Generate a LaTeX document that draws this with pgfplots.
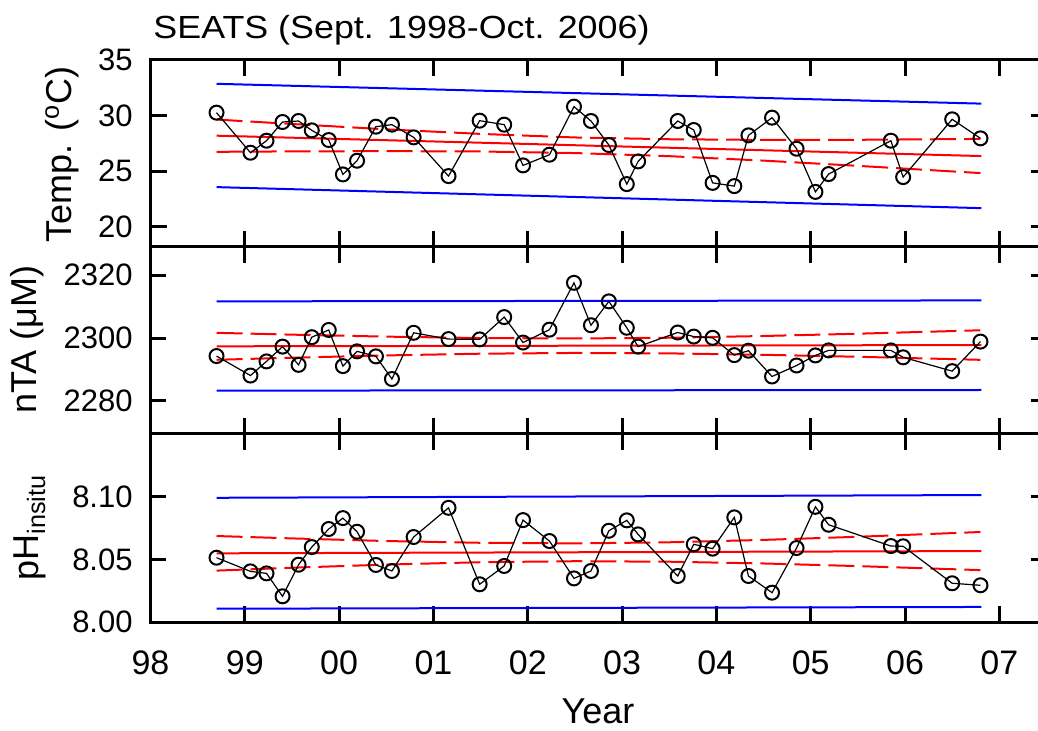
\documentclass[border=0pt]{standalone}
\usepackage{fontspec}
\setmainfont{Liberation Sans}
\usepackage{pgfplots}
\usepackage{pgfplotstable}
\pgfplotsset{compat=1.18}

\pgfplotstableread{
year   temp   nta     ph
98.70  30.27  2294.3  8.0513
99.06  26.67  2288.1  8.0404
99.23  27.75  2292.6  8.0388
99.40  29.43  2297.3  8.0205
99.57  29.52  2291.5  8.0457
99.71  28.68  2300.3  8.0598
99.89  27.81  2302.6  8.0742
100.04 24.72  2291.1  8.0829
100.19 25.95  2295.8  8.0720
100.39 29.01  2294.2  8.0455
100.56 29.19  2287.0  8.0407
100.79 28.05  2301.7  8.0678
101.16 24.57  2299.7  8.0911
101.49 29.55  2299.6  8.0301
101.75 29.19  2306.7  8.0447
101.95 25.53  2298.6  8.0813
102.23 26.49  2302.7  8.0646
102.49 30.81  2317.6  8.0348
102.67 29.52  2304.1  8.0407
102.86 27.36  2311.7  8.0728
103.05 23.85  2303.3  8.0811
103.17 25.89  2297.3  8.0699
103.59 29.52  2301.8  8.0367
103.76 28.71  2300.5  8.0620
103.96 23.96  2300.1  8.0585
104.19 23.67  2294.6  8.0835
104.34 28.23  2296.0  8.0367
104.59 29.82  2287.8  8.0234
104.85 27.03  2291.3  8.0590
105.05 23.15  2294.5  8.0919
105.19 24.75  2296.1  8.0776
105.85 27.75  2296.1  8.0606
105.98 24.48  2293.9  8.0604
106.50 29.67  2289.5  8.0309
106.80 27.96  2298.9  8.0293
}\data

\pgfplotstableread{
x      tu     tl     au       al       pu      pl
98.70  29.65  26.75  2301.69  2293.11  8.0686  8.0410
99.50  29.25  26.79  2301.11  2293.77  8.0667  8.0433
100.50 28.77  26.81  2300.48  2294.50  8.0646  8.0458
101.50 28.36  26.78  2300.03  2295.05  8.0632  8.0477
102.50 28.04  26.64  2299.89  2295.29  8.0627  8.0485
103.50 27.88  26.36  2300.13  2295.15  8.0636  8.0481
104.50 27.82  25.96  2300.68  2294.70  8.0655  8.0467
105.50 27.83  25.49  2301.41  2294.07  8.0680  8.0446
106.80 27.91  24.84  2302.50  2293.10  8.0718  8.0414
}\bands

\pgfplotsset{
  panel/.style={
    scale only axis, width=448pt, height=93.5pt,
    xmin=98, xmax=107.5,
    xtick={98,...,107},
    tick align=inside,
    major tick length=8pt,
    tick style={line width=1.5pt, black},
    axis line style={line width=1.5pt},
    /pgf/number format/assume math mode=true,
    /pgf/number format/1000 sep={},
    tick label style={font=\fontsize{15.5}{18}\selectfont},
    yticklabel style={inner sep=0pt, xshift=-8.75pt},
    xticklabel style={inner sep=0pt, yshift=-14.25pt, font=\fontsize{17}{20}\selectfont},
  },
  bl/.style={color={rgb,255:red,0;green,0;blue,255}, line width=1pt},
  rl/.style={color={rgb,255:red,255;green,0;blue,0}, line width=1pt},
  rd/.style={color={rgb,255:red,255;green,0;blue,0}, line width=1pt, dash pattern=on 13pt off 4pt},
  dat/.style={black, line width=0.6pt, mark=o, mark size=3.5pt, mark options={line width=1pt, solid}},
}

\begin{document}
\begin{tikzpicture}
\useasboundingbox (-75.25pt,30pt) rectangle (443.75pt,-335.5pt);

\begin{axis}[panel, name=p1, at={(0pt,0pt)}, anchor=north west,
  ymin=18.2, ymax=35, ytick={20,25,30,35}, xticklabels={}]
  \addplot[bl] coordinates {(98.70,32.86) (106.81,31.08)};
  \addplot[bl] coordinates {(98.70,23.58) (106.81,21.69)};
  \addplot[rl] coordinates {(98.70,28.20) (106.81,26.37)};
  \addplot[rd] table[x=x, y=tu] {\bands};
  \addplot[rd] table[x=x, y=tl] {\bands};
  \addplot[dat] table[x=year, y=temp] {\data};
\end{axis}

\begin{axis}[panel, name=p2, at={(p1.south west)}, anchor=north west,
  ymin=2269.5, ymax=2329, ytick={2280,2300,2320}, xticklabels={}]
  \addplot[bl] coordinates {(98.70,2311.7) (106.81,2312.0)};
  \addplot[bl] coordinates {(98.70,2283.3) (106.81,2283.5)};
  \addplot[rl] coordinates {(98.70,2297.4) (106.81,2297.8)};
  \addplot[rd] table[x=x, y=au] {\bands};
  \addplot[rd] table[x=x, y=al] {\bands};
  \addplot[dat] table[x=year, y=nta] {\data};
\end{axis}

\begin{axis}[panel, name=p3, at={(p2.south west)}, anchor=north west,
  height=94pt,
  ymin=8.00, ymax=8.15, ytick={8.00,8.05,8.10},
  yticklabel style={/pgf/number format/.cd, fixed, fixed zerofill, precision=2},
  xticklabels={98,99,00,01,02,03,04,05,06,07}]
  \addplot[bl] coordinates {(98.70,8.0991) (106.81,8.1013)};
  \addplot[bl] coordinates {(98.70,8.0106) (106.81,8.0120)};
  \addplot[rl] coordinates {(98.70,8.0548) (106.81,8.0566)};
  \addplot[rd] table[x=x, y=pu] {\bands};
  \addplot[rd] table[x=x, y=pl] {\bands};
  \addplot[dat] table[x=year, y=ph] {\data};
\end{axis}

\node[anchor=base west, inner sep=0pt, xscale=1.12, font=\fontsize{16}{19}\selectfont] at (1.25pt,10.5pt) {SEATS (Sept. 1998-Oct. 2006)};
\node[rotate=90, font=\fontsize{18}{21}\selectfont] at (-44.25pt,-47.25pt) {Temp. (\textsuperscript{o}C)};
\node[rotate=90, font=\fontsize{18}{21}\selectfont] at (-61.75pt,-139.75pt) {nTA (μM)};
\node[rotate=90, font=\fontsize{18}{21}\selectfont] at (-60.25pt,-233.75pt) {pH\textsubscript{insitu}};
\node[anchor=base, inner sep=0pt, font=\fontsize{18}{21}\selectfont] at (223.75pt,-331.5pt) {Year};
\end{tikzpicture}
\end{document}
